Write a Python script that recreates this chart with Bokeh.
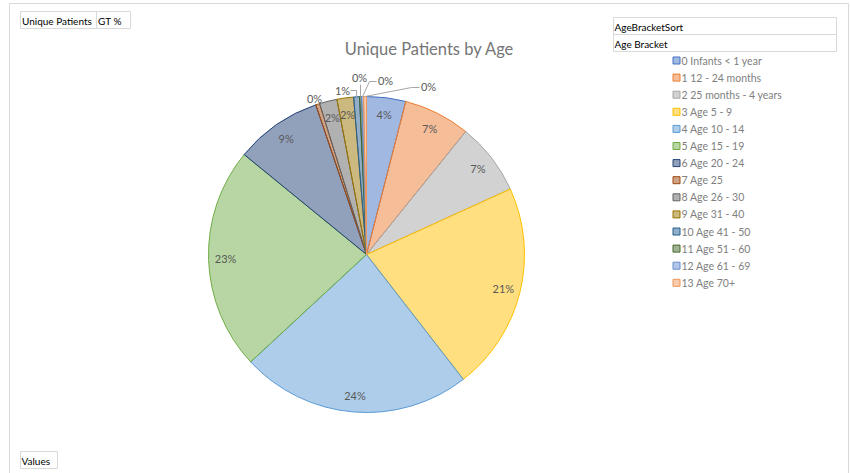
import numpy as np
from bokeh.plotting import figure
from bokeh.models import Range1d, ColumnDataSource
from bokeh.core.properties import value
from bokeh.embed import file_html
from bokeh.resources import INLINE

# ---------------- data ----------------
categories = ["0 Infants < 1 year", "1 12 - 24 months", "2 25 months - 4 years",
              "3 Age 5 - 9", "4 Age 10 - 14", "5 Age 15 - 19", "6 Age 20 - 24",
              "7 Age 25", "8 Age 26 - 30", "9 Age 31 - 40", "10 Age 41 - 50",
              "11 Age 51 - 60", "12 Age 61 - 69", "13 Age 70+"]
shares = [4.0, 6.8, 7.4, 21.3, 23.6, 22.8, 8.9, 0.4, 1.8, 1.7, 0.6, 0.2, 0.2, 0.3]
colors = ["#4472C4", "#ED7D31", "#A5A5A5", "#FFC000", "#5B9BD5", "#70AD47", "#264478",
          "#9E480E", "#636363", "#997300", "#255E91", "#43682B", "#698ED0", "#F1975A"]
title_text = "Unique Patients by Age"
field_top = ["Unique Patients", "GT %"]
legend_headers = ["AgeBracketSort", "Age Bracket"]
values_label = "Values"

# ---------------- layout ----------------
W, H = 851, 473
FONT = value("Lato")


def Y(py):
    return H - py


p = figure(width=W, height=H, x_range=Range1d(0, W), y_range=Range1d(0, H),
           output_backend="svg", toolbar_location=None, min_border=0)
p.axis.visible = False
p.grid.visible = False
p.outline_line_color = None
p.background_fill_color = "white"

# chart frame
p.line(x=[9, 9, 848, 848], y=[Y(480), Y(3), Y(3), Y(480)], line_color="#D9D9D9", line_width=1)

# pie
cx, cy, R = 366, Y(254), 158
vals = np.array(shares, dtype=float)
frac = vals / vals.sum()
cum_end = np.cumsum(frac)
cum_start = cum_end - frac
src = ColumnDataSource(dict(
    start=np.pi / 2 - 2 * np.pi * cum_end,
    end=np.pi / 2 - 2 * np.pi * cum_start,
    fill=colors, line=colors, cat=categories))
p.wedge(x=cx, y=cy, radius=R, start_angle="start", end_angle="end",
        fill_color="fill", fill_alpha=0.5, line_color="line", line_width=1,
        direction="anticlock", source=src)

labels = [f"{int(round(f * 100))}%" for f in frac]
mid = 2 * np.pi * (cum_start + cum_end) / 2  # clockwise from top
inside = [i for i in range(len(vals)) if vals[i] >= 1.5]
lr = 141
p.text(x=[cx + lr * np.sin(mid[i]) for i in inside],
       y=[cy + lr * np.cos(mid[i]) for i in inside],
       text=[labels[i] for i in inside], text_font=FONT, text_font_size="11px",
       text_color="#595959", text_align="center", text_baseline="middle")

# outside labels for thin slices (label anchor offsets, page px)
outside = [i for i in range(len(vals)) if vals[i] < 1.5]
out_pos = {7: (314, 98), 10: (342, 90), 11: (359, 77), 12: (385, 80), 13: (428, 86)}
p.text(x=[out_pos[i][0] for i in outside], y=[Y(out_pos[i][1]) for i in outside],
       text=[labels[i] for i in outside], text_font=FONT, text_font_size="11px",
       text_color="#595959", text_align="center", text_baseline="middle")
# leader lines
edge = {i: (cx + R * np.sin(mid[i]), cy + R * np.cos(mid[i])) for i in outside}
bends = {10: [(350, 90), (edge[10][0], 90)],
         11: [(edge[11][0], 84)],
         12: [(376, 81), (369, 81)],
         13: [(419, 87), (411, 87)]}
xs, ys = [], []
for i, pts in bends.items():
    xs.append([q[0] for q in pts] + [edge[i][0]])
    ys.append([Y(q[1]) for q in pts] + [edge[i][1]])
p.multi_line(xs=xs, ys=ys, line_color="#A6A6A6", line_width=1)

# title
p.text(x=[429], y=[Y(48)], text=[title_text], text_font=FONT, text_font_size="16.5px",
       text_color="#757575", text_align="center", text_baseline="middle")

# field buttons
box_l = [20, 96]
box_r = [96, 130]
p.quad(left=box_l, right=box_r, top=[Y(11)] * 2, bottom=[Y(28)] * 2,
       fill_color=None, line_color="#D9D9D9")
p.text(x=[b + 1.5 for b in box_l], y=[Y(20)] * 2, text=field_top, text_font=FONT,
       text_font_size="10px", text_color="#000000", text_baseline="middle")

p.quad(left=[613, 613], right=[836, 836], top=[Y(17), Y(34)], bottom=[Y(34), Y(51)],
       fill_color=None, line_color="#D9D9D9")
p.text(x=[614, 614], y=[Y(26), Y(43)], text=legend_headers, text_font=FONT,
       text_font_size="10px", text_color="#000000", text_baseline="middle")

p.quad(left=[20], right=[57], top=[Y(451)], bottom=[Y(468)],
       fill_color=None, line_color="#D9D9D9")
p.text(x=[21], y=[Y(460)], text=[values_label], text_font=FONT,
       text_font_size="10px", text_color="#000000", text_baseline="middle")

# legend
n = len(categories)
ly = [Y(60 + 17.1 * k) for k in range(n)]
p.rect(x=[676] * n, y=ly, width=7, height=7, fill_color=colors, fill_alpha=0.5,
       line_color=colors, line_width=1)
p.text(x=[681] * n, y=ly, text=categories, text_font=FONT, text_font_size="10.5px",
       text_color="#808080", text_baseline="middle")

open("out.html", "w").write(file_html(p, INLINE))
